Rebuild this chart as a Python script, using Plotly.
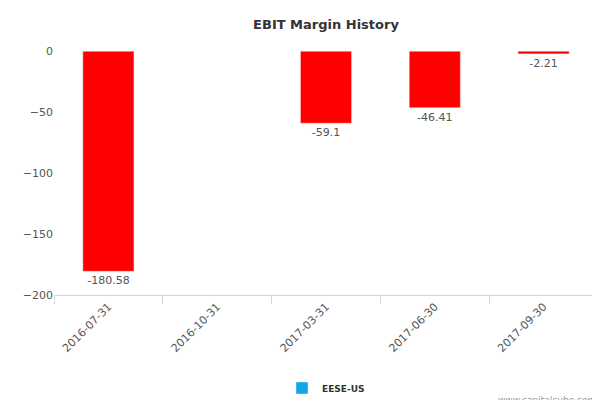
import plotly.graph_objects as go

categories = ["2016-07-31", "2016-10-31", "2017-03-31", "2017-06-30", "2017-09-30"]
values = [-180.58, None, -59.1, -46.41, -2.21]
labels = ["-180.58", "", "-59.1", "-46.41", "-2.21"]
series_name = "EESE-US"

fig = go.Figure()
fig.add_trace(go.Bar(
    x=categories, y=values, name=series_name, marker_color="#ff0000",
    text=labels, textposition="outside", textfont=dict(size=11, color="#555555"),
    width=0.47, showlegend=False, cliponaxis=False,
))
fig.add_trace(go.Bar(x=[None], y=[None], name="<b>" + series_name + "</b>", marker_color="#0ea5e9", showlegend=True))

fig.update_layout(
    width=600, height=400, plot_bgcolor="white", paper_bgcolor="white",
    margin=dict(l=46, r=10, t=31, b=113, autoexpand=False),
    title=dict(text="<b>EBIT Margin History</b>", x=0.5, y=0.96, xref="paper", yref="container",
               xanchor="center", yanchor="middle",
               font=dict(family="DejaVu Sans", size=13, color="#333333")),
    font=dict(family="DejaVu Sans", size=11, color="#555555"),
    xaxis=dict(type="category", tickangle=-45, showline=True, linecolor="#ccd6eb",
               ticks="outside", tickson="boundaries", tickcolor="#ccd6eb", ticklen=8,
               showgrid=False),
    yaxis=dict(range=[-200, 10], tickvals=[-200, -150, -100, -50, 0], showgrid=False,
               zeroline=False, showline=False),
    legend=dict(orientation="h", x=0.5, xanchor="center", yref="container", y=0.05, yanchor="middle",
                font=dict(size=9, color="#333333")),
    showlegend=True,
)
fig.add_annotation(text="www.capitalcube.com", xref="paper", yref="paper", x=1.0, y=-0.41,
                   xanchor="right", yanchor="middle", showarrow=False,
                   font=dict(size=9, color="#999999"))
fig.write_html("out.html")
